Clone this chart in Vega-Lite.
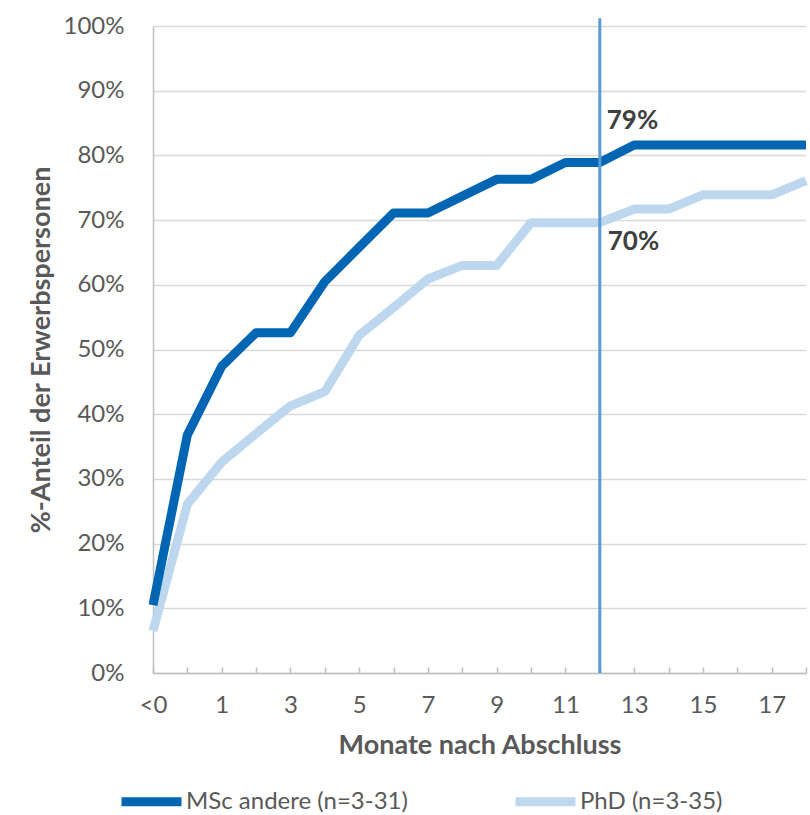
{
  "$schema": "https://vega.github.io/schema/vega-lite/v6.json",
  "width": 653,
  "height": 647,
  "autosize": {"type": "none"},
  "padding": {"left": 153, "top": 26, "right": 4, "bottom": 142},
  "background": "white",
  "config": {
    "view": {"stroke": null},
    "font": "Lato",
    "axis": {"labelFont": "Lato", "titleFont": "Lato", "labelColor": "#595959", "titleColor": "#595959", "labelFontSize": 24, "titleFontSize": 27, "titleFontWeight": "bold"}
  },
  "datasets": {
    "series": [
      {"month": -1, "series": "MSc andere (n=3-31)", "share": 0.105},
      {"month": 0, "series": "MSc andere (n=3-31)", "share": 0.368},
      {"month": 1, "series": "MSc andere (n=3-31)", "share": 0.474},
      {"month": 2, "series": "MSc andere (n=3-31)", "share": 0.526},
      {"month": 3, "series": "MSc andere (n=3-31)", "share": 0.526},
      {"month": 4, "series": "MSc andere (n=3-31)", "share": 0.605},
      {"month": 5, "series": "MSc andere (n=3-31)", "share": 0.658},
      {"month": 6, "series": "MSc andere (n=3-31)", "share": 0.711},
      {"month": 7, "series": "MSc andere (n=3-31)", "share": 0.711},
      {"month": 8, "series": "MSc andere (n=3-31)", "share": 0.737},
      {"month": 9, "series": "MSc andere (n=3-31)", "share": 0.763},
      {"month": 10, "series": "MSc andere (n=3-31)", "share": 0.763},
      {"month": 11, "series": "MSc andere (n=3-31)", "share": 0.789},
      {"month": 12, "series": "MSc andere (n=3-31)", "share": 0.789},
      {"month": 13, "series": "MSc andere (n=3-31)", "share": 0.816},
      {"month": 14, "series": "MSc andere (n=3-31)", "share": 0.816},
      {"month": 15, "series": "MSc andere (n=3-31)", "share": 0.816},
      {"month": 16, "series": "MSc andere (n=3-31)", "share": 0.816},
      {"month": 17, "series": "MSc andere (n=3-31)", "share": 0.816},
      {"month": 18, "series": "MSc andere (n=3-31)", "share": 0.816},
      {"month": -1, "series": "PhD (n=3-35)", "share": 0.065},
      {"month": 0, "series": "PhD (n=3-35)", "share": 0.261},
      {"month": 1, "series": "PhD (n=3-35)", "share": 0.326},
      {"month": 2, "series": "PhD (n=3-35)", "share": 0.370},
      {"month": 3, "series": "PhD (n=3-35)", "share": 0.413},
      {"month": 4, "series": "PhD (n=3-35)", "share": 0.435},
      {"month": 5, "series": "PhD (n=3-35)", "share": 0.522},
      {"month": 6, "series": "PhD (n=3-35)", "share": 0.565},
      {"month": 7, "series": "PhD (n=3-35)", "share": 0.609},
      {"month": 8, "series": "PhD (n=3-35)", "share": 0.630},
      {"month": 9, "series": "PhD (n=3-35)", "share": 0.630},
      {"month": 10, "series": "PhD (n=3-35)", "share": 0.696},
      {"month": 11, "series": "PhD (n=3-35)", "share": 0.696},
      {"month": 12, "series": "PhD (n=3-35)", "share": 0.696},
      {"month": 13, "series": "PhD (n=3-35)", "share": 0.717},
      {"month": 14, "series": "PhD (n=3-35)", "share": 0.717},
      {"month": 15, "series": "PhD (n=3-35)", "share": 0.739},
      {"month": 16, "series": "PhD (n=3-35)", "share": 0.739},
      {"month": 17, "series": "PhD (n=3-35)", "share": 0.739},
      {"month": 18, "series": "PhD (n=3-35)", "share": 0.761}
    ],
    "marker": [{"month": 12, "low": 0, "high": 1.012}],
    "labels": [
      {"month": 12, "share": 0.789, "label": "79%", "pos": "above"},
      {"month": 12, "share": 0.696, "label": "70%", "pos": "below"}
    ]
  },
  "encoding": {
    "x": {
      "field": "month", "type": "quantitative",
      "scale": {"domain": [-1, 18], "nice": false, "zero": false},
      "axis": {
        "title": "Monate nach Abschluss",
        "values": [-1, 0, 1, 2, 3, 4, 5, 6, 7, 8, 9, 10, 11, 12, 13, 14, 15, 16, 17, 18],
        "labelExpr": "datum.value == -1 ? '<0' : (datum.value % 2 != 0 ? datum.label : '')",
        "grid": false,
        "domainColor": "#BFBFBF", "domainWidth": 1.5,
        "tickColor": "#BFBFBF", "tickWidth": 1.5, "tickSize": -6,
        "labelPadding": 26, "titlePadding": 15, "labelFlush": false
      }
    }
  },
  "layer": [
    {
      "data": {"name": "series"},
      "transform": [{"filter": "datum.series == 'PhD (n=3-35)'"}],
      "mark": {"type": "line", "strokeWidth": 9, "strokeJoin": "round", "strokeCap": "butt"},
      "encoding": {
        "y": {
          "field": "share", "type": "quantitative",
          "scale": {"domain": [0, 1], "nice": false},
          "axis": {
            "title": "%-Anteil der Erwerbspersonen",
            "format": ".0%", "values": [0, 0.1, 0.2, 0.3, 0.4, 0.5, 0.6, 0.7, 0.8, 0.9, 1],
            "ticks": false, "grid": true, "gridColor": "#D9D9D9", "gridWidth": 1.5,
            "domainColor": "#BFBFBF", "domainWidth": 1.5,
            "labelPadding": 29, "titlePadding": 8
          }
        },
        "color": {
          "field": "series", "type": "nominal",
          "scale": {"domain": ["MSc andere (n=3-31)", "PhD (n=3-35)"], "range": ["#0066B3", "#BDD7EE"]},
          "legend": {
            "title": null, "orient": "none", "direction": "horizontal",
            "legendX": -36, "legendY": 741,
            "symbolType": "stroke", "symbolSize": 3600, "symbolStrokeWidth": 9,
            "labelFont": "Lato", "labelFontSize": 24, "labelColor": "#595959",
            "labelOffset": 0, "columnPadding": 89, "labelLimit": 400
          }
        }
      }
    },
    {
      "data": {"name": "series"},
      "transform": [{"filter": "datum.series == 'MSc andere (n=3-31)'"}],
      "mark": {"type": "line", "strokeWidth": 9, "strokeJoin": "round", "strokeCap": "butt"},
      "encoding": {
        "y": {"field": "share", "type": "quantitative"},
        "color": {"field": "series", "type": "nominal"}
      }
    },
    {
      "data": {"name": "marker"},
      "mark": {"type": "rule", "color": "#5B9BD5", "strokeWidth": 3, "clip": false},
      "encoding": {
        "y": {"field": "low", "type": "quantitative"},
        "y2": {"field": "high"}
      }
    },
    {
      "data": {"name": "labels"},
      "transform": [{"filter": "datum.pos == 'above'"}],
      "mark": {"type": "text", "align": "left", "baseline": "middle", "dx": 7, "dy": -42, "font": "Lato", "fontSize": 26, "fontWeight": "bold", "color": "#404040"},
      "encoding": {
        "y": {"field": "share", "type": "quantitative"},
        "text": {"field": "label"}
      }
    },
    {
      "data": {"name": "labels"},
      "transform": [{"filter": "datum.pos == 'below'"}],
      "mark": {"type": "text", "align": "left", "baseline": "middle", "dx": 8, "dy": 19, "font": "Lato", "fontSize": 26, "fontWeight": "bold", "color": "#404040"},
      "encoding": {
        "y": {"field": "share", "type": "quantitative"},
        "text": {"field": "label"}
      }
    }
  ]
}
